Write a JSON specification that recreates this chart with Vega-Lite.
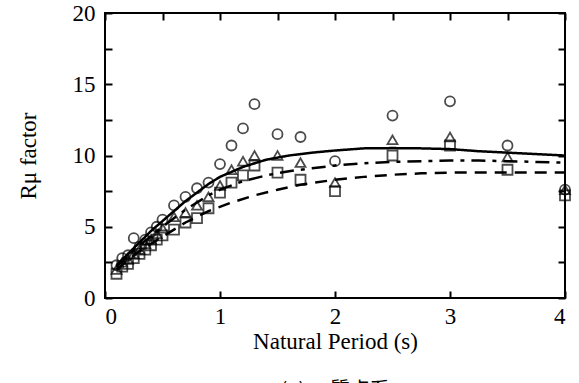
{
  "$schema": "https://vega.github.io/schema/vega-lite/v6.json",
  "width": 460,
  "height": 285,
  "autosize": "none",
  "padding": {"left": 105, "top": 13, "right": 14, "bottom": 85},
  "background": "white",
  "config": {
    "view": {"stroke": "black", "strokeWidth": 2},
    "font": "Liberation Serif",
    "axis": {
      "domain": false, "grid": false,
      "tickColor": "black", "tickWidth": 2, "tickSize": -7,
      "labelColor": "black", "labelFontSize": 23, "labelFont": "Liberation Serif",
      "titleColor": "black", "titleFontSize": 22, "titleFontWeight": "normal", "titleFont": "Liberation Serif"
    }
  },
  "title": {"text": "(a) 一質点系", "orient": "bottom", "fontSize": 20, "fontWeight": "normal", "font": "Noto Sans CJK JP", "color": "black", "offset": 28},
  "datasets": {
    "curves": [
      {"curve": "solid", "T": 0.1, "R": 2.3}, {"curve": "solid", "T": 0.2, "R": 3.1}, {"curve": "solid", "T": 0.3, "R": 3.9},
      {"curve": "solid", "T": 0.4, "R": 4.7}, {"curve": "solid", "T": 0.5, "R": 5.4}, {"curve": "solid", "T": 0.6, "R": 6.1},
      {"curve": "solid", "T": 0.7, "R": 6.8}, {"curve": "solid", "T": 0.8, "R": 7.4}, {"curve": "solid", "T": 0.9, "R": 8.0},
      {"curve": "solid", "T": 1.0, "R": 8.5}, {"curve": "solid", "T": 1.2, "R": 9.2}, {"curve": "solid", "T": 1.4, "R": 9.7},
      {"curve": "solid", "T": 1.6, "R": 10.0}, {"curve": "solid", "T": 1.8, "R": 10.2}, {"curve": "solid", "T": 2.0, "R": 10.35},
      {"curve": "solid", "T": 2.25, "R": 10.5}, {"curve": "solid", "T": 2.5, "R": 10.52}, {"curve": "solid", "T": 2.75, "R": 10.5},
      {"curve": "solid", "T": 3.0, "R": 10.45}, {"curve": "solid", "T": 3.25, "R": 10.3}, {"curve": "solid", "T": 3.5, "R": 10.2},
      {"curve": "solid", "T": 3.75, "R": 10.1}, {"curve": "solid", "T": 4.0, "R": 10.0},
      {"curve": "dashdot", "T": 0.1, "R": 2.2}, {"curve": "dashdot", "T": 0.3, "R": 3.7}, {"curve": "dashdot", "T": 0.5, "R": 5.0},
      {"curve": "dashdot", "T": 0.7, "R": 6.2}, {"curve": "dashdot", "T": 0.9, "R": 7.2}, {"curve": "dashdot", "T": 1.0, "R": 7.6},
      {"curve": "dashdot", "T": 1.2, "R": 8.2}, {"curve": "dashdot", "T": 1.4, "R": 8.6}, {"curve": "dashdot", "T": 1.6, "R": 8.9},
      {"curve": "dashdot", "T": 1.8, "R": 9.1}, {"curve": "dashdot", "T": 2.0, "R": 9.3}, {"curve": "dashdot", "T": 2.25, "R": 9.45},
      {"curve": "dashdot", "T": 2.5, "R": 9.55}, {"curve": "dashdot", "T": 2.75, "R": 9.6}, {"curve": "dashdot", "T": 3.0, "R": 9.65},
      {"curve": "dashdot", "T": 3.25, "R": 9.65}, {"curve": "dashdot", "T": 3.5, "R": 9.6}, {"curve": "dashdot", "T": 3.75, "R": 9.55},
      {"curve": "dashdot", "T": 4.0, "R": 9.5},
      {"curve": "dashed", "T": 0.1, "R": 2.0}, {"curve": "dashed", "T": 0.3, "R": 3.3}, {"curve": "dashed", "T": 0.5, "R": 4.3},
      {"curve": "dashed", "T": 0.7, "R": 5.3}, {"curve": "dashed", "T": 0.9, "R": 6.1}, {"curve": "dashed", "T": 1.1, "R": 6.7},
      {"curve": "dashed", "T": 1.3, "R": 7.2}, {"curve": "dashed", "T": 1.5, "R": 7.6}, {"curve": "dashed", "T": 1.7, "R": 7.95},
      {"curve": "dashed", "T": 2.0, "R": 8.3}, {"curve": "dashed", "T": 2.25, "R": 8.5}, {"curve": "dashed", "T": 2.5, "R": 8.65},
      {"curve": "dashed", "T": 2.75, "R": 8.75}, {"curve": "dashed", "T": 3.0, "R": 8.8}, {"curve": "dashed", "T": 3.5, "R": 8.8},
      {"curve": "dashed", "T": 4.0, "R": 8.8}
    ],
    "pts": [
      {"s": "circle", "T": 0.1, "R": 2.3}, {"s": "circle", "T": 0.15, "R": 2.8}, {"s": "circle", "T": 0.2, "R": 3.0},
      {"s": "circle", "T": 0.25, "R": 4.2}, {"s": "circle", "T": 0.3, "R": 3.6}, {"s": "circle", "T": 0.35, "R": 4.1},
      {"s": "circle", "T": 0.4, "R": 4.6}, {"s": "circle", "T": 0.45, "R": 5.0}, {"s": "circle", "T": 0.5, "R": 5.5},
      {"s": "circle", "T": 0.6, "R": 6.5}, {"s": "circle", "T": 0.7, "R": 7.1}, {"s": "circle", "T": 0.8, "R": 7.7},
      {"s": "circle", "T": 0.9, "R": 8.1}, {"s": "circle", "T": 1.0, "R": 9.4}, {"s": "circle", "T": 1.1, "R": 10.7},
      {"s": "circle", "T": 1.2, "R": 11.9}, {"s": "circle", "T": 1.3, "R": 13.6}, {"s": "circle", "T": 1.5, "R": 11.5},
      {"s": "circle", "T": 1.7, "R": 11.3}, {"s": "circle", "T": 2.0, "R": 9.6}, {"s": "circle", "T": 2.5, "R": 12.8},
      {"s": "circle", "T": 3.0, "R": 13.8}, {"s": "circle", "T": 3.5, "R": 10.7}, {"s": "circle", "T": 4.0, "R": 7.6},
      {"s": "triangle", "T": 0.1, "R": 2.0}, {"s": "triangle", "T": 0.15, "R": 2.5}, {"s": "triangle", "T": 0.2, "R": 2.7},
      {"s": "triangle", "T": 0.25, "R": 3.1}, {"s": "triangle", "T": 0.3, "R": 3.4}, {"s": "triangle", "T": 0.35, "R": 3.8},
      {"s": "triangle", "T": 0.4, "R": 4.1}, {"s": "triangle", "T": 0.45, "R": 4.5}, {"s": "triangle", "T": 0.5, "R": 4.9},
      {"s": "triangle", "T": 0.6, "R": 5.7}, {"s": "triangle", "T": 0.7, "R": 6.0}, {"s": "triangle", "T": 0.8, "R": 6.5},
      {"s": "triangle", "T": 0.9, "R": 7.1}, {"s": "triangle", "T": 1.0, "R": 7.9}, {"s": "triangle", "T": 1.1, "R": 9.0},
      {"s": "triangle", "T": 1.2, "R": 9.6}, {"s": "triangle", "T": 1.3, "R": 10.0}, {"s": "triangle", "T": 1.5, "R": 10.0},
      {"s": "triangle", "T": 1.7, "R": 9.5}, {"s": "triangle", "T": 2.0, "R": 8.1}, {"s": "triangle", "T": 2.5, "R": 11.1},
      {"s": "triangle", "T": 3.0, "R": 11.3}, {"s": "triangle", "T": 3.5, "R": 9.9}, {"s": "triangle", "T": 4.0, "R": 7.6},
      {"s": "square", "T": 0.1, "R": 1.7}, {"s": "square", "T": 0.15, "R": 2.2}, {"s": "square", "T": 0.2, "R": 2.4},
      {"s": "square", "T": 0.25, "R": 2.8}, {"s": "square", "T": 0.3, "R": 3.1}, {"s": "square", "T": 0.35, "R": 3.4},
      {"s": "square", "T": 0.4, "R": 3.7}, {"s": "square", "T": 0.45, "R": 4.1}, {"s": "square", "T": 0.5, "R": 4.4},
      {"s": "square", "T": 0.6, "R": 4.8}, {"s": "square", "T": 0.7, "R": 5.3}, {"s": "square", "T": 0.8, "R": 5.6},
      {"s": "square", "T": 0.9, "R": 6.3}, {"s": "square", "T": 1.0, "R": 7.4}, {"s": "square", "T": 1.1, "R": 8.1},
      {"s": "square", "T": 1.2, "R": 8.6}, {"s": "square", "T": 1.3, "R": 9.3}, {"s": "square", "T": 1.5, "R": 8.8},
      {"s": "square", "T": 1.7, "R": 8.3}, {"s": "square", "T": 2.0, "R": 7.5}, {"s": "square", "T": 2.5, "R": 10.0},
      {"s": "square", "T": 3.0, "R": 10.7}, {"s": "square", "T": 3.5, "R": 9.0}, {"s": "square", "T": 4.0, "R": 7.2}
    ]
  },
  "layer": [
    {
      "data": {"name": "curves"},
      "mark": {"type": "line", "color": "black", "strokeWidth": 2.5},
      "encoding": {
        "x": {"field": "T", "type": "quantitative", "scale": {"domain": [0, 4], "nice": false},
              "axis": {"orient": "bottom", "title": "Natural Period (s)", "values": [0, 0.5, 1, 1.5, 2, 2.5, 3, 3.5, 4], "format": "d",
                       "labelExpr": "datum.value % 1 === 0 ? datum.label : ''", "labelPadding": 14, "titlePadding": 2,
                       "labelFont": "Liberation Serif", "titleFont": "Liberation Serif", "labelFontSize": 23, "titleFontSize": 23}},
        "y": {"field": "R", "type": "quantitative", "scale": {"domain": [0, 20], "nice": false},
              "axis": {"orient": "left", "title": "Rμ factor", "values": [0, 2.5, 5, 7.5, 10, 12.5, 15, 17.5, 20], "format": "d",
                       "labelExpr": "datum.value % 5 === 0 ? datum.label : ''", "labelPadding": 17, "titlePadding": 32,
                       "labelFont": "Liberation Serif", "titleFont": "Liberation Serif", "labelFontSize": 23, "titleFontSize": 23}},
        "strokeDash": {"field": "curve", "type": "nominal",
                       "scale": {"domain": ["solid", "dashdot", "dashed"], "range": [[1, 0], [14, 7, 4, 7], [12, 8]]},
                       "legend": null}
      }
    },
    {
      "data": {"name": "pts"},
      "mark": {"type": "point", "filled": false, "color": "black", "strokeWidth": 1.8, "size": 100},
      "encoding": {
        "x": {"field": "T", "type": "quantitative", "scale": {"domain": [0, 4], "nice": false},
              "axis": {"orient": "top", "title": null, "labels": false, "values": [0, 0.5, 1, 1.5, 2, 2.5, 3, 3.5, 4]}},
        "y": {"field": "R", "type": "quantitative", "scale": {"domain": [0, 20], "nice": false},
              "axis": {"orient": "right", "title": null, "labels": false, "values": [0, 2.5, 5, 7.5, 10, 12.5, 15, 17.5, 20]}},
        "shape": {"field": "s", "type": "nominal",
                  "scale": {"domain": ["circle", "triangle", "square"], "range": ["circle", "triangle-up", "square"]},
                  "legend": null}
      }
    }
  ],
  "resolve": {"axis": {"x": "independent", "y": "independent"}}
}
